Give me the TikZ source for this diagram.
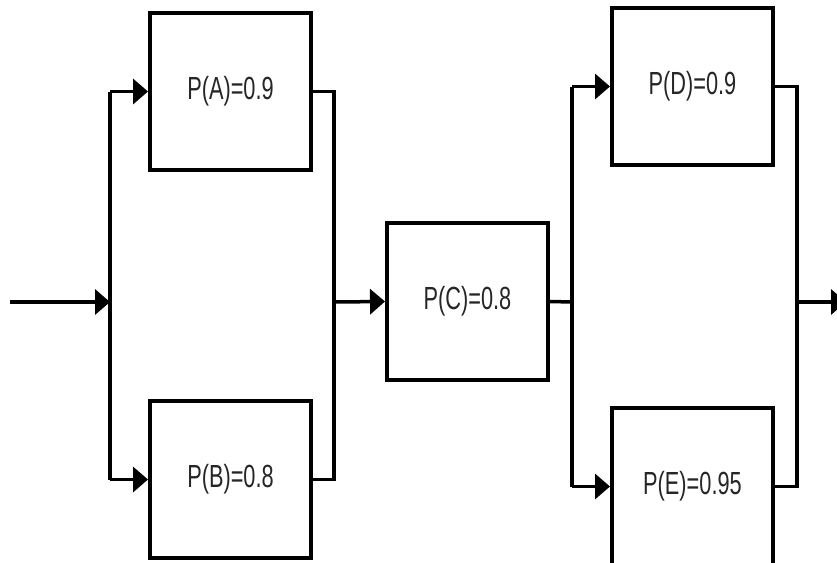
\documentclass[tikz,border=0pt]{standalone}
\usepackage{fontspec}
\newfontfamily\labfont[FakeStretch=0.68]{Liberation Sans}
\usetikzlibrary{arrows.meta,calc}
\begin{document}
\begin{tikzpicture}[x=1pt,y=-1pt,
  blockbox/.style={draw=black,line width=4pt,minimum width=161pt,minimum height=157pt,
    inner sep=0pt,font=\labfont\fontsize{32}{32}\selectfont,text=black!85},
  wire/.style={line width=3.5pt},
  arr/.style={wire,-{Triangle[length=15pt,width=25pt]}}]
\useasboundingbox (0,0) rectangle (837,562);
\node[blockbox] (A) at (230.5,91.5) {P(A)=0.9};
\node[blockbox] (B) at (230.5,479.5) {P(B)=0.8};
\node[blockbox] (C) at (467.5,301.5) {P(C)=0.8};
\node[blockbox] (D) at (692.5,86.5) {P(D)=0.9};
\node[blockbox] (E) at (692.5,486.5) {P(E)=0.95};
\coordinate (in) at (10,302);
\coordinate (j1) at (110,302);
\coordinate (j2) at (334,302);
\coordinate (j3) at (572,302);
\coordinate (j4) at (797,302);
\coordinate (out) at (846,302);
% input
\draw[arr] (in) -- (j1);
\draw[wire] (j1 |- A.west) -- (j1 |- B.west);
\draw[arr] (j1 |- A.west) -- (A.west);
\draw[arr] (j1 |- B.west) -- (B.west);
% A/B outputs
\draw[wire] (A.east) -- (j2 |- A.east) -- (j2 |- B.east) -- (B.east);
\draw[arr] (j2) -- (C.west);
% C output
\draw[wire] (C.east) -- (j3);
\draw[wire] (j3 |- D.west) -- (j3 |- E.west);
\draw[arr] (j3 |- D.west) -- (D.west);
\draw[arr] (j3 |- E.west) -- (E.west);
% D/E outputs
\draw[wire] (D.east) -- (j4 |- D.east) -- (j4 |- E.east) -- (E.east);
\draw[arr] (j4) -- (out);
\end{tikzpicture}
\end{document}
